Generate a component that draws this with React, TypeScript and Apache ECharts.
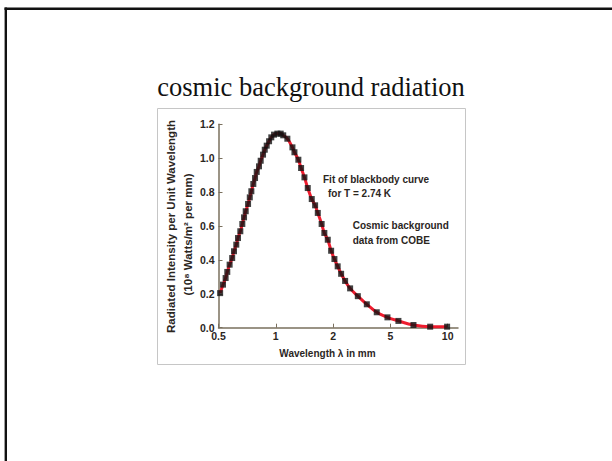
import React, { useEffect, useRef } from "react";
import * as echarts from "echarts";

// Tick labels of the wavelength axis (equally spaced in the original figure)
const xTickLabels = ["0.5", "1", "2", "5", "10"];
const xTickValues = [0.5, 1, 2, 5, 10];

// COBE data points (wavelength in mm, radiated intensity in 10^8 W/m^2 per mm)
const wavelengthMm = [
  0.51, 0.528, 0.545, 0.556, 0.572, 0.59, 0.603, 0.62, 0.633, 0.651, 0.667, 0.681,
  0.695, 0.715, 0.73, 0.744, 0.762, 0.778, 0.794, 0.816, 0.833, 0.857, 0.875, 0.896,
  0.922, 0.947, 0.979, 1.019, 1.061, 1.094, 1.15, 1.223, 1.253, 1.314, 1.358, 1.414,
  1.472, 1.545, 1.609, 1.662, 1.741, 1.799, 1.875, 1.953, 2.043, 2.152, 2.274, 2.424,
  2.626, 2.97, 3.43, 4.02, 4.77, 5.51, 6.61, 8.09, 9.93,
];
const intensity = [
  0.204, 0.254, 0.293, 0.329, 0.372, 0.411, 0.451, 0.49, 0.529, 0.569, 0.612, 0.651,
  0.687, 0.73, 0.769, 0.805, 0.848, 0.883, 0.919, 0.952, 0.985, 1.021, 1.05, 1.074,
  1.1, 1.123, 1.139, 1.145, 1.145, 1.135, 1.115, 1.064, 1.035, 0.991, 0.942, 0.887,
  0.824, 0.759, 0.722, 0.677, 0.612, 0.559, 0.519, 0.454, 0.405, 0.362, 0.318, 0.276,
  0.232, 0.186, 0.138, 0.091, 0.061, 0.04, 0.016, 0.006, 0.006,
];

const yTickLabels = ["0.0", "0.2", "0.4", "0.6", "0.8", "1.0", "1.2"];

// Map a wavelength onto the figure's axis, whose ticks 0.5, 1, 2, 5, 10 are equally spaced
function toAxis(l: number): number {
  for (let i = 0; i < xTickValues.length - 1; i++) {
    if (l <= xTickValues[i + 1] || i === xTickValues.length - 2) {
      return i + Math.log(l / xTickValues[i]) / Math.log(xTickValues[i + 1] / xTickValues[i]);
    }
  }
  return 0;
}

const SANS = '"Liberation Sans", Arial, sans-serif';
const TXT = "#2b261e";
const AX = "#7a705e";

export default function App() {
  const ref = useRef<HTMLDivElement>(null);
  useEffect(() => {
    if (!ref.current) return;
    const chart = echarts.init(ref.current, null, { renderer: "svg" });
    const pts = wavelengthMm.map((l, i) => [toAxis(l), intensity[i]]);
    const tickIdx = xTickLabels.map((_, i) => i);
    const txt = (x: number, y: number, text: string, size: number, align = "left", rot = 0) => ({
      type: "text",
      x,
      y,
      rotation: rot,
      silent: true,
      style: {
        text,
        fill: TXT,
        fontFamily: SANS,
        fontWeight: "bold",
        fontSize: size,
        align,
        textAlign: align,
        verticalAlign: "middle",
        textVerticalAlign: "middle",
      },
    });
    chart.setOption({
      animation: false,
      backgroundColor: "#ffffff",
      grid: { left: 218.5, top: 124.3, width: 239.5, height: 203.4 },
      xAxis: {
        type: "value",
        min: 0,
        max: 4.18,
        interval: 1,
        axisLine: { lineStyle: { color: AX, width: 1.5 } },
        axisTick: {
          inside: true,
          length: 4,
          lineStyle: { color: AX },
          customValues: tickIdx,
        },
        axisLabel: {
          customValues: tickIdx,
          formatter: (v: number) => (Number.isInteger(v) ? xTickLabels[v] : ""),
          color: TXT,
          fontFamily: SANS,
          fontWeight: "bold",
          fontSize: 10.5,
          margin: 3,
        },
        splitLine: { show: false },
      },
      yAxis: {
        type: "value",
        min: 0,
        max: 1.2,
        interval: 0.2,
        axisLine: { show: true, lineStyle: { color: AX, width: 1.5 } },
        axisTick: { show: true, inside: true, length: 4, lineStyle: { color: AX } },
        axisLabel: {
          formatter: (v: number) => yTickLabels[Math.round(v / 0.2)] ?? "",
          color: TXT,
          fontFamily: SANS,
          fontWeight: "bold",
          fontSize: 10.5,
          margin: 4,
        },
        splitLine: { show: false },
      },
      series: [
        {
          type: "line",
          data: pts,
          smooth: 0.4,
          showSymbol: false,
          lineStyle: { color: "#ee1c2e", width: 3 },
          z: 2,
        },
        {
          type: "scatter",
          data: pts,
          symbol: "rect",
          symbolSize: 6,
          itemStyle: { color: "#111111" },
          z: 3,
        },
      ],
      graphic: [
        { type: "line", silent: true, shape: { x1: 4.5, y1: 8.7, x2: 612, y2: 8.7 }, style: { stroke: "#111", lineWidth: 2.6 } },
        { type: "line", silent: true, shape: { x1: 5.8, y1: 7.4, x2: 5.8, y2: 461 }, style: { stroke: "#111", lineWidth: 2.4 } },
        { type: "rect", silent: true, shape: { x: 157.5, y: 108.5, width: 308, height: 256 }, style: { fill: "none", stroke: "#c6c6c6", lineWidth: 1 } },
        {
          type: "text",
          x: 311,
          y: 86.5,
          silent: true,
          style: {
            text: "cosmic background radiation",
            fill: "#111",
            fontFamily: '"Liberation Serif", "Times New Roman", serif',
            fontSize: 26.5,
            align: "center",
            textAlign: "center",
            verticalAlign: "middle",
            textVerticalAlign: "middle",
          },
        },
        txt(327.5, 353, "Wavelength λ in mm", 10, "center"),
        txt(171, 226.5, "Radiated Intensity per Unit Wavelength", 11.5, "center", Math.PI / 2),
        txt(188, 234.5, "(10⁸ Watts/m² per mm)", 11.5, "center", Math.PI / 2),
        txt(323, 179, "Fit of blackbody curve", 10),
        txt(328, 193, "for T = 2.74 K", 10),
        txt(352.7, 225.7, "Cosmic background", 10),
        txt(352.7, 240, "data from COBE", 10),
      ],
    });
    return () => chart.dispose();
  }, []);
  return (
    <div
      ref={ref}
      style={{ position: "absolute", left: 0, top: 0, width: 612, height: 461 }}
    />
  );
}
